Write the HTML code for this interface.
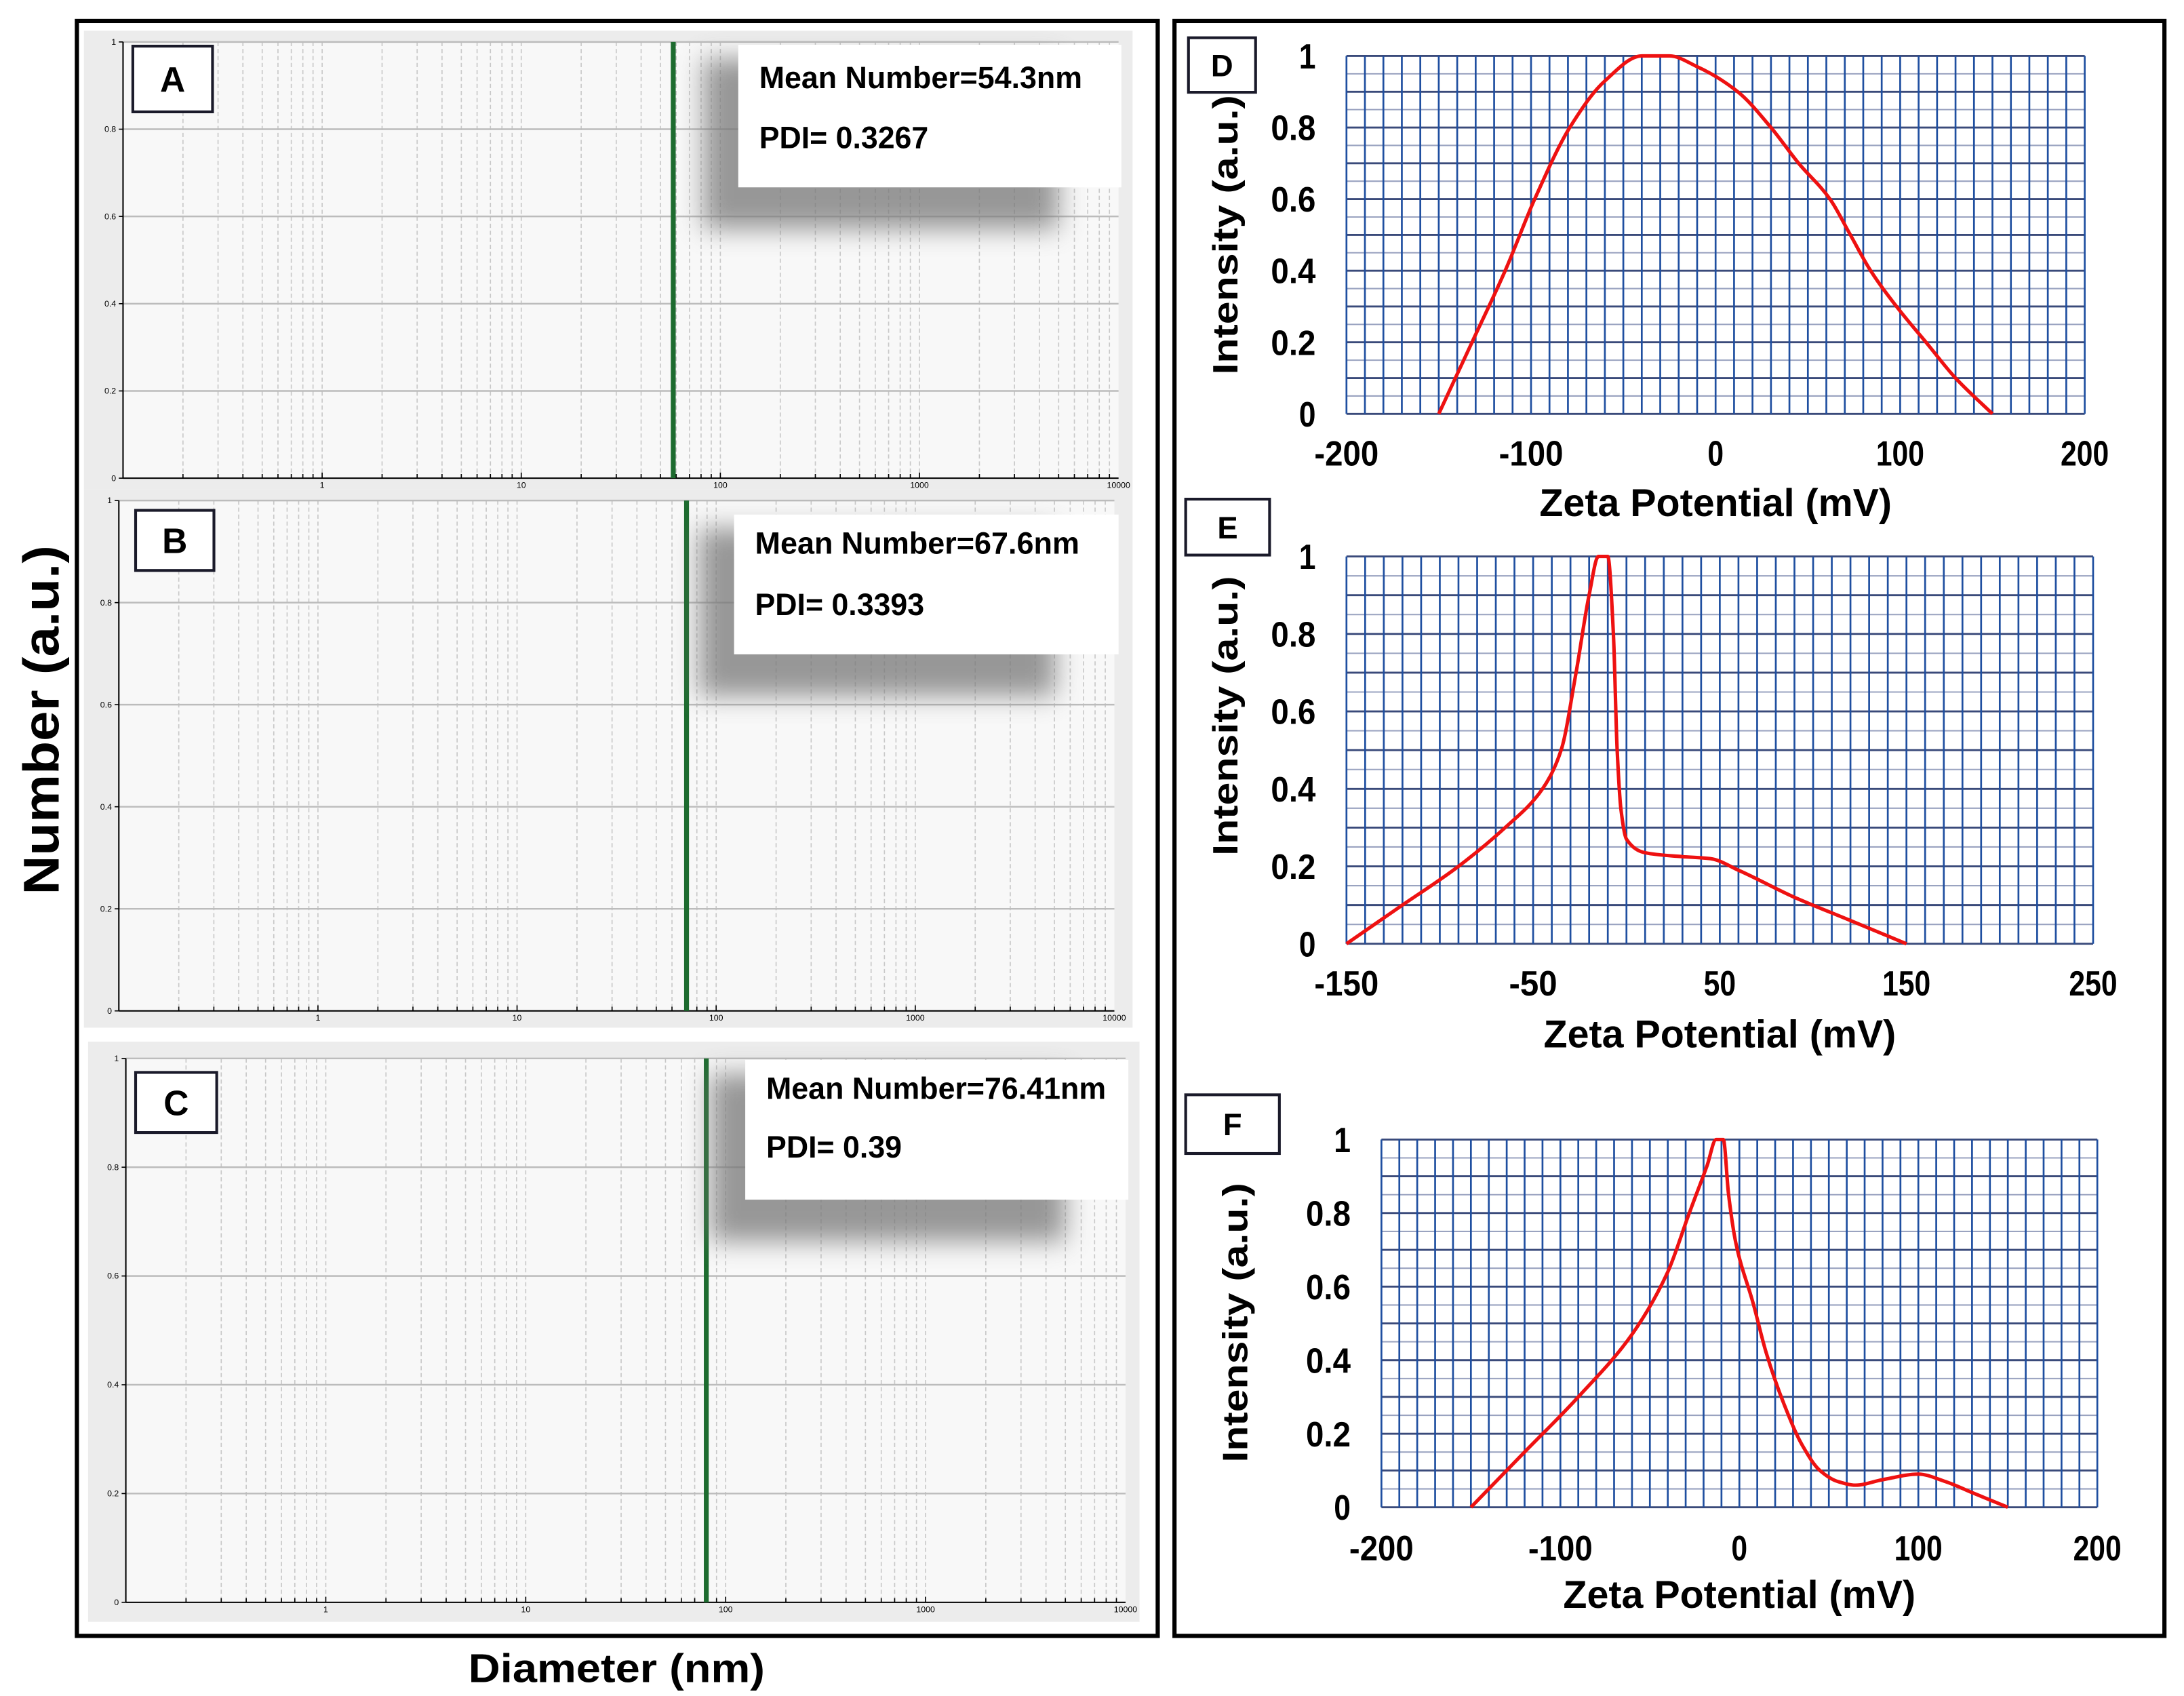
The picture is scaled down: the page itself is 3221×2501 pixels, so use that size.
<!DOCTYPE html>
<html><head><meta charset="utf-8"><style>
html,body{margin:0;padding:0;background:#fff;}
svg{display:block;}
text{font-family:"Liberation Sans",Arial,sans-serif;}
</style></head><body>
<svg id="fig" width="3221" height="2501" viewBox="0 0 1562 1213" preserveAspectRatio="none" xmlns="http://www.w3.org/2000/svg">
<defs>
<filter id="blur" x="-20%" y="-20%" width="140%" height="140%"><feGaussianBlur stdDeviation="9"/></filter>
</defs>
<rect x="0" y="0" width="1562" height="1213" fill="#fff"/>
<rect x="55" y="15" width="773" height="1155" fill="none" stroke="#000" stroke-width="3"/>
<rect x="840" y="15" width="708" height="1155" fill="none" stroke="#000" stroke-width="3"/>
<text transform="translate(42,515) rotate(-90)" text-anchor="middle" font-size="36" font-weight="bold" textLength="250" lengthAdjust="spacingAndGlyphs">Number (a.u.)</text>
<text x="441" y="1203" text-anchor="middle" font-size="29" font-weight="bold" textLength="212" lengthAdjust="spacingAndGlyphs">Diameter (nm)</text>
<g id="dls"></g>
<g id="zeta"></g>
</svg>
<script>
// ---- DLS data (log-scale size distributions) ----
const dlsLabels = ["A","B","C"];
const dlsPeaks = [58, 71, 80];
const dlsMeans = ["Mean Number=54.3nm","Mean Number=67.6nm","Mean Number=76.41nm"];
const dlsPdis = ["PDI= 0.3267","PDI= 0.3393","PDI= 0.39"];
const dlsXTicks = [1,10,100,1000,10000];
const dlsYTicks = [0,0.2,0.4,0.6,0.8,1];

// ---- Zeta potential data ----
const zetaLabels = ["D","E","F"];
const dX = [-150,-132,-114,-98,-79,-60,-40,-25,-10,12,30,45,62,73,84,98,114,130,150];
const dY = [0,0.2,0.4,0.6,0.8,0.93,1,1,0.97,0.9,0.8,0.7,0.6,0.5,0.4,0.3,0.2,0.1,0];
const eX = [-150,-120,-90,-65,-45,-35,-27,-20,-15,-10,-7,-5,-3,0,10,30,45,60,90,120,150];
const eY = [0,0.1,0.2,0.3,0.4,0.5,0.7,0.9,1,1,0.8,0.5,0.35,0.27,0.235,0.225,0.22,0.19,0.12,0.06,0];
const fX = [-150,-120,-90,-60,-40,-28,-18,-13,-9,-6,-2,8,15,25,35,45,55,65,80,100,115,130,150];
const fY = [0,0.15,0.3,0.47,0.64,0.8,0.93,1,1,0.85,0.72,0.55,0.42,0.28,0.17,0.1,0.07,0.06,0.075,0.09,0.07,0.04,0];
const dTicks = [-200,-100,0,100,200];
const eTicks = [-150,-50,50,150,250];
const fTicks = [-200,-100,0,100,200];
const zYTicks = [0,0.2,0.4,0.6,0.8,1];

const NS="http://www.w3.org/2000/svg";
function mk(tag,attrs,parent,txt){const e=document.createElementNS(NS,tag);for(const k in attrs)e.setAttribute(k,attrs[k]);if(txt!==undefined)e.textContent=txt;parent.appendChild(e);return e;}

// monotone cubic path
function monoPath(px,py){
  const n=px.length;const dx=[],m=[],t=[];
  for(let i=0;i<n-1;i++){dx[i]=px[i+1]-px[i];m[i]=(py[i+1]-py[i])/dx[i];}
  t[0]=m[0];t[n-1]=m[n-2];
  for(let i=1;i<n-1;i++){ if(m[i-1]*m[i]<=0)t[i]=0; else {const w1=2*dx[i]+dx[i-1],w2=dx[i]+2*dx[i-1];t[i]=(w1+w2)/(w1/m[i-1]+w2/m[i]);} }
  let d='M'+px[0].toFixed(1)+','+py[0].toFixed(1);
  for(let i=0;i<n-1;i++){const h=dx[i]/3;
    d+='C'+(px[i]+h).toFixed(1)+','+(py[i]+t[i]*h).toFixed(1)+' '+(px[i+1]-h).toFixed(1)+','+(py[i+1]-t[i+1]*h).toFixed(1)+' '+px[i+1].toFixed(1)+','+py[i+1].toFixed(1);}
  return d;
}

const dlsLayout=[
 {bg:[60,22,750,328],pa:[88,30,800,342],lab:[95,33,57,47],box:[528,32,274,102],t1:55,t2:98},
 {bg:[60,350,750,385],pa:[85,358,797,723],lab:[97,365,56,43],box:[525,368,275,100],t1:388,t2:432},
 {bg:[63,745,752,415],pa:[90,757,805,1146],lab:[97,767,58,43],box:[533,758,274,100],t1:778,t2:820}
];
const meanLens=[231,232,243], pdiLens=[121,121,97];
const dlsG=document.getElementById('dls');
dlsLayout.forEach((L,i)=>{
  const g=mk('g',{},dlsG);
  
  
  const [x0,y0,x1,y1]=L.pa;
  const sx=v=>x0+(Math.log10(v)+1)/5*(x1-x0);
  const sy=v=>y1-v*(y1-y0);
  mk('rect',{x:L.bg[0],y:L.bg[1],width:L.bg[2],height:L.bg[3],fill:'#ececec'},g);
  mk('rect',{x:x0,y:y0,width:x1-x0,height:y1-y0,fill:'#f8f8f8'},g);
  for(let d=-1;d<4;d++)for(let m=1;m<10;m++){const v=m*Math.pow(10,d);if(v<=0.1)continue;
    mk('line',{x1:sx(v),x2:sx(v),y1:y0,y2:y1,stroke:'#c8c8c8','stroke-width':0.8,'stroke-dasharray':'3,2'},g);
    mk('line',{x1:sx(v),x2:sx(v),y1:y1,y2:y1-(m==1?4:3),stroke:'#000','stroke-width':0.8},g);}
  dlsYTicks.forEach(t=>{
    if(t>0)mk('line',{x1:x0,x2:x1,y1:sy(t),y2:sy(t),stroke:'#bcbcbc','stroke-width':1.2},g);
    mk('line',{x1:x0-3,x2:x0,y1:sy(t),y2:sy(t),stroke:'#000','stroke-width':0.8},g);
    const tl=mk('text',{x:x0-5,y:sy(t)+2,'text-anchor':'end','font-size':6},g,String(t));
    
    
  });
  mk('line',{x1:x0,x2:x0,y1:y0,y2:y1,stroke:'#000','stroke-width':1},g);
  mk('line',{x1:x0,x2:x1,y1:y1,y2:y1,stroke:'#000','stroke-width':1},g);
  dlsXTicks.forEach(t=>{
    const tl=mk('text',{x:sx(t),y:y1+7,'text-anchor':'middle','font-size':6},g,String(t));
    
    
  });
  const bar=mk('line',{x1:sx(dlsPeaks[i]),x2:sx(dlsPeaks[i]),y1:sy(1),y2:y1,stroke:'#1d6b2f','stroke-width':3.5},g);
  
  
  const b=L.box;
  mk('rect',{x:b[0]-25,y:b[1]+10,width:b[2]-20,height:b[3]+20,fill:'#777',opacity:0.75,filter:'url(#blur)'},g);
  const ib=mk('rect',{x:b[0],y:b[1],width:b[2],height:b[3],fill:'#fff'},g);
  
  
  const t1=mk('text',{x:b[0]+15,y:L.t1+8,'font-size':22,'font-weight':'bold',textLength:meanLens[i],lengthAdjust:'spacingAndGlyphs'},g,dlsMeans[i]);
  
  
  const t2=mk('text',{x:b[0]+15,y:L.t2+8,'font-size':22,'font-weight':'bold',textLength:pdiLens[i],lengthAdjust:'spacingAndGlyphs'},g,dlsPdis[i]);
  
  
  const lb=mk('rect',{x:L.lab[0],y:L.lab[1],width:L.lab[2],height:L.lab[3],fill:'#fff',stroke:'#1a1a2a','stroke-width':2},g);
  
  
  const lt=mk('text',{x:L.lab[0]+L.lab[2]/2,y:L.lab[1]+L.lab[3]/2+9,'text-anchor':'middle','font-size':25,'font-weight':'bold'},g,dlsLabels[i]);
  
  
});

const zLayout=[
 {pa:[963,40,1491,296],dom:[-200,200],ticks:dTicks,xs:dX,ys:dY,lab:[850,27,48,39],tickY:333,titleY:369,ylab:[885,168]},
 {pa:[963,398,1497,675],dom:[-150,250],ticks:eTicks,xs:eX,ys:eY,lab:[848,357,60,40],tickY:712,titleY:749,ylab:[885,512]},
 {pa:[988,815,1500,1078],dom:[-200,200],ticks:fTicks,xs:fX,ys:fY,lab:[848,783,67,42],tickY:1116,titleY:1150,ylab:[892,946]}
];
const zG=document.getElementById('zeta');
zLayout.forEach((L,i)=>{
  const g=mk('g',{},zG);
  
  
  const [x0,y0,x1,y1]=L.pa;
  const sx=v=>x0+(v-L.dom[0])/(L.dom[1]-L.dom[0])*(x1-x0);
  const sy=v=>y1-v*(y1-y0);
  for(let k=0;k<=20;k++){const v=k*0.05;
    mk('line',{x1:x0,x2:x1,y1:sy(v),y2:sy(v),stroke:k%2?'#9aa3c0':'#3a4a7a','stroke-width':k%2?1:1.4},g);}
  for(let v=L.dom[0];v<=L.dom[1]+0.01;v+=10)
    mk('line',{x1:sx(v),x2:sx(v),y1:y0,y2:y1,stroke:'#1f4fa0','stroke-width':1.3},g);
  zYTicks.forEach(t=>{
    const s=String(t);
    const tl=mk('text',{x:x0-22,y:sy(t)+9,'text-anchor':'end','font-size':25,'font-weight':'bold',textLength:s.length>1?32:12,lengthAdjust:'spacingAndGlyphs'},g,s);
    
    
  });
  L.ticks.forEach(t=>{
    const s=String(t);
    const tl=mk('text',{x:sx(t),y:L.tickY,'text-anchor':'middle','font-size':25,'font-weight':'bold',textLength:s.length*11.5,lengthAdjust:'spacingAndGlyphs'},g,s);
    
    
  });
  const xt=mk('text',{x:(x0+x1)/2,y:L.titleY,'text-anchor':'middle','font-size':28,'font-weight':'bold',textLength:252,lengthAdjust:'spacingAndGlyphs'},g,'Zeta Potential (mV)');
  
  
  const yt=mk('text',{transform:'translate('+L.ylab[0]+','+L.ylab[1]+') rotate(-90)','text-anchor':'middle','font-size':25,'font-weight':'bold',textLength:200,lengthAdjust:'spacingAndGlyphs'},g,'Intensity  (a.u.)');
  
  
  const px=L.xs.map(sx), py=L.ys.map(sy);
  const p=mk('path',{d:monoPath(px,py),fill:'none',stroke:'#ee1111','stroke-width':2.5,'stroke-linejoin':'round'},g);
  
  
  const lb=mk('rect',{x:L.lab[0],y:L.lab[1],width:L.lab[2],height:L.lab[3],fill:'#fff',stroke:'#1a1a2a','stroke-width':2},g);
  
  
  const lt=mk('text',{x:L.lab[0]+L.lab[2]/2,y:L.lab[1]+L.lab[3]/2+8,'text-anchor':'middle','font-size':22,'font-weight':'bold'},g,zetaLabels[i]);
  
  
});
</script>
</body></html>
